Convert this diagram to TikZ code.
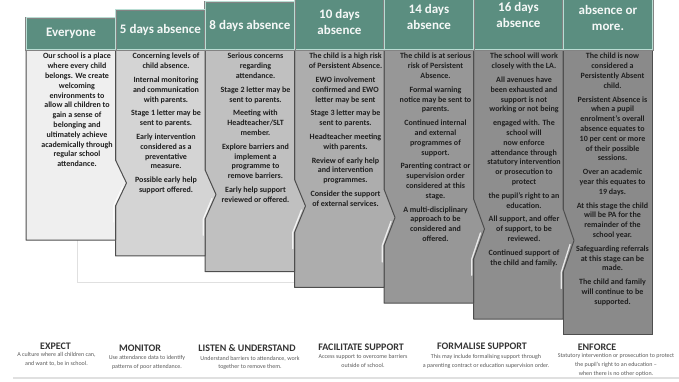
\documentclass[tikz,border=0pt]{standalone}
\usepackage{fontspec}
\setmainfont{Carlito}
\usetikzlibrary{positioning}

\definecolor{headfill}{HTML}{5B8E80}
\definecolor{headedge}{HTML}{B9DDD3}
\definecolor{boxedge}{HTML}{4E4E4E}
\definecolor{shadeA}{HTML}{EFEFEF}
\definecolor{shadeB}{HTML}{D4D4D4}
\definecolor{shadeC}{HTML}{C0C0C0}
\definecolor{shadeD}{HTML}{ADADAD}
\definecolor{shadeE}{HTML}{979797}
\definecolor{shadeF}{HTML}{8E8E8E}
\definecolor{shadeG}{HTML}{8A8A8A}

\tikzset{
  stepbody/.style={draw=boxedge, line width=1pt, line join=round},
  stephead/.style={fill=headfill, draw=boxedge!70, double=headedge, double distance=1.3pt,
    line width=0.4pt, text=white!94!headfill, font=\bfseries\fontsize{13}{16}\selectfont,
    align=center, inner sep=0pt, anchor=south west},
  steptext/.style={font=\bfseries\fontsize{8}{9.8}\selectfont, text=black!88, align=center,
    anchor=north, inner sep=0pt},
  shine/.style={draw=white, line width=1.3pt, opacity=0.8, line cap=round},
  faint/.style={draw=black!12, line width=1pt},
  stagehead/.style={font=\bfseries\fontsize{10}{12}\selectfont, text=black!80, inner sep=0pt},
  stagedesc/.style={font=\fontsize{6}{8.6}\selectfont, text=black!65, align=center, inner sep=0pt}
}

\begin{document}
\begin{tikzpicture}[x=1pt, y=-1pt]
  \useasboundingbox (0,0) rectangle (679,382);
  \clip (0,0) rectangle (679,382);

  % faint outline behind the steps
  \draw[faint] (77,240) -- (77,282) -- (300,282);
  \draw[faint, line width=1.5pt] (13,378) -- (679,378);

  % steps, drawn from the last one back to the first
  \foreach \i/\shade/\top/\label in {6/shadeG/-13/{absence or\\more.},
      5/shadeF/-20/{16 days\\absence}, 4/shadeE/-15/{14 days\\absence},
      3/shadeD/-6/{10 days\\absence}, 2/shadeC/2/{8 days absence},
      1/shadeB/10/{5 days absence}, 0/shadeA/18/{Everyone}} {
    \pgfmathsetmacro\L{26+89.5*\i}
    \pgfmathsetmacro\R{\L+89.5}
    \pgfmathsetmacro\B{240+15.8*\i}
    \pgfmathsetmacro\C{183+11.5*\i}
    \pgfmathsetmacro\H{23+1.8*\i}
    \pgfmathsetmacro\Hh{50-\top}
    \ifnum\i<6
      \filldraw[stepbody, fill=\shade] (\L,50) -- (\R,50) -- (\R,\C-\H) -- (\R+11,\C)
        -- (\R,\C+\H) -- (\R,\B) -- (\L,\B) -- cycle;
      \draw[shine] (\R+7,\C+4) -- (\R-1.8,\C+\H) -- (\R-1.8,\C+\H+16);
    \else
      \filldraw[stepbody, fill=\shade] (\L,50) -- (\R,50) -- (\R,\B) -- (\L,\B) -- cycle;
    \fi
    \node[stephead, minimum width=89.5pt, minimum height=\Hh pt] (head\i) at (\L,50) {\label};
  }

  % texts of the steps
  \node[steptext] (txt0) at (77,53) {Our school is a place\\where every child\\belongs.  We create\\welcoming\\environments to\\allow all children to\\gain a sense of\\belonging and\\ultimately achieve\\academically through\\regular school\\attendance.};
  \node[steptext] (txt1) at (166,53) {Concerning levels of\\child absence.\\[4pt]Internal monitoring\\and communication\\with parents.\\[4pt]Stage 1 letter may be\\sent to parents.\\[4pt]Early intervention\\considered as a\\preventative\\measure.\\[4pt]Possible early help\\support offered.};
  \node[steptext] (txt2) at (255.5,53) {Serious concerns\\regarding\\attendance.\\[4pt]Stage 2 letter may be\\sent to parents.\\[4pt]Meeting with\\Headteacher/SLT\\member.\\[4pt]Explore barriers and\\implement a\\programme to\\remove barriers.\\[4pt]Early help support\\reviewed or offered.};
  \node[steptext] (txt3) at (345.5,53) {The child is a high risk\\of Persistent Absence.\\[4pt]EWO involvement\\confirmed and EWO\\letter may be sent\\[4pt]Stage 3 letter may be\\sent to parents.\\[4pt]Headteacher meeting\\with parents.\\[4pt]Review of early help\\and intervention\\programmes.\\[4pt]Consider the support\\of external services.};
  \node[steptext] (txt4) at (435.5,53) {The child is at serious\\risk of Persistent\\Absence.\\[4pt]Formal warning\\notice may be sent to\\parents.\\[4pt]Continued internal\\and external\\programmes of\\support.\\[4pt]Parenting contract or\\supervision order\\considered at this\\stage.\\[4pt]A multi-disciplinary\\approach to be\\considered and\\offered.};
  \node[steptext] (txt5) at (524,53) {The school will work\\closely with the LA.\\[4pt]All avenues have\\been exhausted and\\support is not\\working or not being\\[4pt]engaged with.  The\\school will\\now enforce\\attendance through\\statutory intervention\\or prosecution to\\protect\\[4pt]the pupil's right to an\\education.\\[4pt]All support, and offer\\of support, to be\\reviewed.\\[4pt]Continued support of\\the child and family.};
  \node[steptext] (txt6) at (612.5,53) {The child is now\\considered a\\Persistently Absent\\child.\\[4pt]Persistent Absence is\\when a pupil\\enrolment's overall\\absence equates to\\10 per cent or more\\of their possible\\sessions.\\[4pt]Over an academic\\year this equates to\\19 days.\\[4pt]At this stage the child\\will be PA for the\\remainder of the\\school year.\\[4pt]Safeguarding referrals\\at this stage can be\\made.\\[4pt]The child and family\\will continue to be\\supported.};

  % stages along the bottom
  \node[stagehead] (expect) at (55.5,346) {EXPECT};
  \node[stagehead] (monitor) at (140,348) {MONITOR};
  \node[stagehead] (listen) at (247,348) {LISTEN \& UNDERSTAND};
  \node[stagehead] (facilitate) at (361,347) {FACILITATE SUPPORT};
  \node[stagehead] (formalise) at (482,346) {FORMALISE SUPPORT};
  \node[stagehead] (enforce) at (597,347) {ENFORCE};

  \node[stagedesc, below=3pt of expect, xshift=1pt] (expectdesc) {A culture where all children can,\\and want to, be in school.};
  \node[stagedesc, below=4pt of monitor, xshift=7pt] (monitordesc) {Use attendance data to identify\\patterns of poor attendance.};
  \node[stagedesc, below=4pt of listen, xshift=3pt] (listendesc) {Understand barriers to attendance, work\\together to remove them.};
  \node[stagedesc, below=4pt of facilitate, xshift=2pt] (facilitatedesc) {Access support to overcome barriers\\outside of school.};
  \node[stagedesc, below=5pt of formalise, xshift=4pt] (formalisedesc) {This may include formalising support through\\a parenting contract or education supervision order.};
  \node[stagedesc, below=3pt of enforce, xshift=19pt] (enforcedesc) {Statutory intervention or prosecution to protect\\the pupil's right to an education --\\when there is no other option.};
\end{tikzpicture}
\end{document}
